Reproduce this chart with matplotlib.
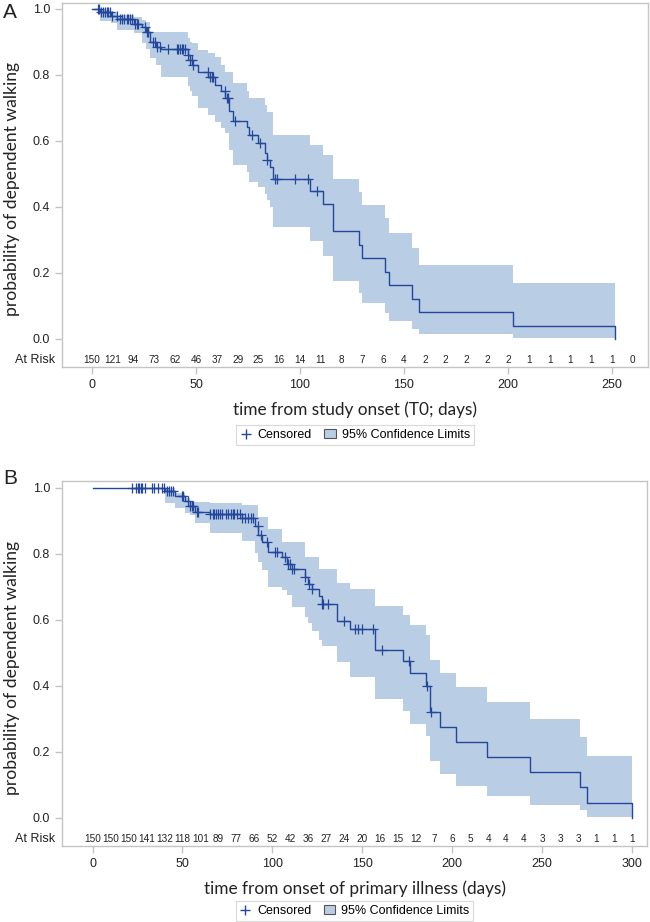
import numpy as np
import matplotlib.pyplot as plt
from matplotlib.lines import Line2D
from matplotlib.patches import Patch
from matplotlib.transforms import blended_transform_factory

# ---- panel A: time from study onset ----
a_time = [0, 4, 9, 12, 20, 24, 26, 28, 31, 33, 46, 47, 48, 51, 56, 59, 62, 64, 66, 68,
          74.5, 75.5, 80, 83, 84, 85.5, 87, 105, 111, 115.7, 128.5, 129.6, 141, 143,
          154, 157, 202.5, 251.5]
a_surv = [1.0, 0.99, 0.98, 0.97, 0.955, 0.945, 0.93, 0.9, 0.885, 0.878, 0.86, 0.845, 0.83,
          0.81, 0.793, 0.77, 0.75, 0.73, 0.69, 0.66, 0.643, 0.618, 0.593, 0.563, 0.542,
          0.52, 0.485, 0.448, 0.408, 0.327, 0.285, 0.245, 0.204, 0.164, 0.121, 0.081,
          0.039, 0.0]
a_lo = [1.0, 0.962, 0.958, 0.936, 0.928, 0.897, 0.88, 0.852, 0.83, 0.795, 0.766, 0.75,
        0.736, 0.70, 0.68, 0.658, 0.64, 0.623, 0.573, 0.527, 0.505, 0.477, 0.46, 0.44,
        0.42, 0.40, 0.34, 0.297, 0.251, 0.176, 0.14, 0.108, 0.08, 0.055, 0.03, 0.014,
        0.003, 0.003]
a_hi = [1.0, 0.998, 0.99, 0.982, 0.975, 0.967, 0.96, 0.929, 0.929, 0.929, 0.911, 0.9,
        0.896, 0.876, 0.865, 0.853, 0.83, 0.81, 0.81, 0.775, 0.75, 0.73, 0.73, 0.71,
        0.689, 0.689, 0.618, 0.588, 0.558, 0.485, 0.446, 0.406, 0.366, 0.32, 0.275,
        0.224, 0.169, 0.169]
a_cens = [2.7, 3.4, 4.3, 5.5, 6.3, 7.1, 7.9, 8.7, 9.5, 11.9, 13.5, 14.3, 15.5, 16.7, 17.5,
          18.3, 19.1, 20.7, 21.5, 22.3, 25.5, 26.3, 27.1, 29.5, 30.3, 31.1, 32.7, 36.7,
          40.7, 41.5, 42.3, 43.1, 43.9, 44.7, 46.3, 47.1, 47.9, 48.7, 55.9, 56.7, 57.5,
          58.3, 63.9, 64.7, 65.5, 68.8, 76.8, 80.8, 84.2, 88, 88.8, 97.6, 104, 108]
a_risk_t = list(range(0, 261, 10))
a_risk_n = [150, 121, 94, 73, 62, 46, 37, 29, 25, 16, 14, 11, 8, 7, 6, 4, 2, 2, 2, 2, 2,
            1, 1, 1, 1, 1, 0]

# ---- panel B: time from onset of primary illness ----
b_time = [0, 40.3, 45.9, 51.5, 54, 57, 65.4, 83, 90.4, 92.2, 94.1, 97.4, 105.2, 108,
          110.8, 118.2, 120, 121.9, 126, 127.5, 135.8, 143.2, 157.1, 172.9, 176.6, 185.5,
          187.7, 193.3, 202.2, 219.3, 243.4, 271.2, 275.3, 300]
b_surv = [1.0, 0.99, 0.975, 0.96, 0.945, 0.928, 0.92, 0.908, 0.886, 0.856, 0.837, 0.807,
          0.79, 0.77, 0.754, 0.73, 0.71, 0.693, 0.673, 0.648, 0.598, 0.573, 0.509, 0.476,
          0.438, 0.40, 0.32, 0.277, 0.229, 0.184, 0.138, 0.093, 0.046, 0.0]
b_lo = [1.0, 0.954, 0.938, 0.925, 0.918, 0.893, 0.863, 0.839, 0.802, 0.775, 0.75, 0.701,
        0.69, 0.676, 0.64, 0.61, 0.59, 0.565, 0.54, 0.52, 0.474, 0.428, 0.36, 0.323,
        0.285, 0.249, 0.174, 0.132, 0.098, 0.065, 0.038, 0.024, 0.002, 0.002]
b_hi = [1.0, 0.999, 0.984, 0.969, 0.958, 0.958, 0.955, 0.948, 0.948, 0.913, 0.913, 0.875,
        0.837, 0.837, 0.837, 0.792, 0.792, 0.792, 0.754, 0.754, 0.713, 0.693, 0.642,
        0.615, 0.585, 0.555, 0.48, 0.44, 0.396, 0.351, 0.299, 0.246, 0.188, 0.188]
b_cens = [21.8, 24.0, 25.0, 25.9, 26.8, 27.7, 29.2, 32.9, 34.4, 36.2, 38.8, 39.9, 41.2,
          42.5, 43.7, 44.9, 49.6, 50.5, 53.3, 54.2, 55.2, 56.1, 58.0, 58.9, 65.6, 66.8,
          67.8, 68.7, 69.6, 70.9, 71.8, 74.1, 75.2, 77.0, 77.9, 78.9, 80.2, 82.0, 83.3,
          84.8, 86.7, 88.0, 89.5, 91.9, 93.7, 96.9, 101.5, 102.4, 107.1, 108.9, 109.8,
          111.1, 112.1, 118.4, 120.2, 122.1, 127.7, 128.4, 131.2, 140.1, 146.0, 147.9,
          149.7, 156.2, 161.2, 176.2, 186.0, 188.1]
b_risk_t = list(range(0, 301, 10))
b_risk_n = [150, 150, 150, 141, 132, 118, 101, 89, 77, 66, 52, 42, 36, 27, 24, 20, 16, 15,
            12, 7, 6, 5, 4, 4, 4, 3, 3, 3, 1, 1, 1]

band_col = '#b9cde5'
line_col = '#23479b'
grey = '#c4c4c4'
txt = '#222222'
label_font = ['Lato', 'DejaVu Sans']


def step_value(times, vals, t):
    idx = np.searchsorted(np.array(times), np.array(t), side='right') - 1
    return np.array(vals)[idx]


def km_panel(ax, times, surv, lo, hi, cens, risk_t, risk_n, xlim, ylim, xticks, xlabel):
    ax.fill_between(times, lo, hi, step='post', color=band_col, lw=0)
    ax.step(times, surv, where='post', color=line_col, lw=1.0)
    ax.plot(cens, step_value(times, surv, cens), ls='none', marker='+', ms=7, mew=0.9,
            color=line_col)

    ax.set_xlim(*xlim)
    ax.set_ylim(*ylim)
    ax.set_xticks(xticks)
    ax.set_yticks([0, 0.2, 0.4, 0.6, 0.8, 1.0])
    ax.set_yticklabels(['0.0', '0.2', '0.4', '0.6', '0.8', '1.0'])
    for s in ax.spines.values():
        s.set_color(grey)
        s.set_linewidth(1.0)
    ax.tick_params(colors=grey, labelcolor=txt, labelsize=9, length=5, width=1.0)
    for lab in ax.get_xticklabels() + ax.get_yticklabels():
        lab.set_family('Liberation Sans')

    for t, n in zip(risk_t, risk_n):
        ax.text(t, -0.064, str(n), ha='center', va='center', fontsize=7.2,
                family='Liberation Sans', color=txt)
    tr = blended_transform_factory(ax.transAxes, ax.transData)
    ax.text(-0.012, -0.064, 'At Risk', transform=tr, ha='right', va='center', fontsize=9,
            family='Liberation Sans', color=txt)

    ax.set_ylabel('probability of dependent walking', fontsize=12.6, family=label_font,
                  color=txt)
    ax.yaxis.set_label_coords(-0.072, 0.489)
    ax.set_xlabel(xlabel, fontsize=12.4, family=label_font, color=txt, va='center')
    ax.xaxis.set_label_coords(0.5, -0.118)


fig = plt.figure(figsize=(6.5, 9.22), dpi=100)
axA = fig.add_axes([62 / 650, (922 - 367) / 922, 586 / 650, 364 / 922])
axB = fig.add_axes([62 / 650, (922 - 846) / 922, 585 / 650, 365 / 922])

km_panel(axA, a_time, a_surv, a_lo, a_hi, a_cens, a_risk_t, a_risk_n,
         (-14.4, 267.3), (-0.085, 1.018), [0, 50, 100, 150, 200, 250],
         'time from study onset (T0; days)')
km_panel(axB, b_time, b_surv, b_lo, b_hi, b_cens, b_risk_t, b_risk_n,
         (-17.0, 308.4), (-0.085, 1.021), [0, 50, 100, 150, 200, 250, 300],
         'time from onset of primary illness (days)')

handles = [Line2D([], [], ls='none', marker='+', ms=7, mew=1.0, color=line_col),
           Patch(facecolor=band_col, edgecolor='#555555', lw=0.8)]
names = ['Censored', '95% Confidence Limits']
for ax, ypos in [(axA, -0.187), (axB, -0.178)]:
    leg = ax.legend(handles, names, loc='center', bbox_to_anchor=(0.5, ypos), ncol=2,
                    fancybox=False, edgecolor='#d0d0d0', handlelength=0.9,
                    handletextpad=0.5, columnspacing=1.0, borderpad=0.3,
                    prop={'family': 'Liberation Sans', 'size': 9})
    leg.get_frame().set_linewidth(0.8)

fig.text(3 / 650, 1 - 13 / 922, 'A', fontsize=15, family='Liberation Sans', va='center',
         color=txt)
fig.text(3 / 650, 1 - 478 / 922, 'B', fontsize=15, family='Liberation Sans', va='center',
         color=txt)

fig.savefig('out.png', dpi=100)
